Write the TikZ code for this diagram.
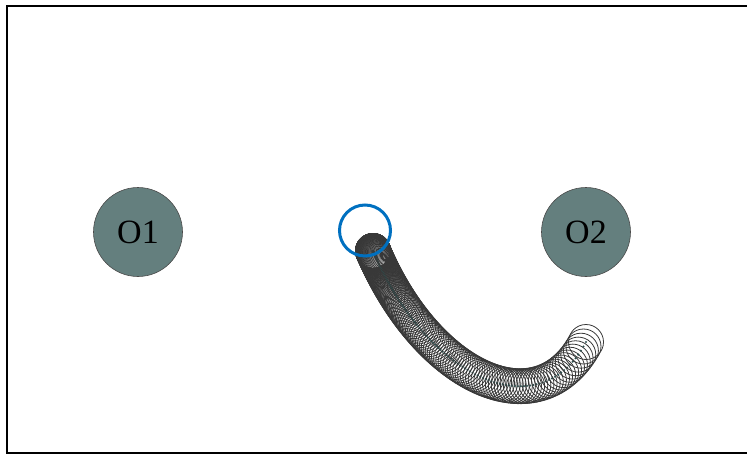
\documentclass[tikz,border=0pt]{standalone}
\usepackage{fontspec}
\setmainfont{Liberation Serif}
\definecolor{bodyfill}{HTML}{647F7E}
\definecolor{bodyedge}{HTML}{4A4A4A}
\definecolor{probeblue}{HTML}{0070C0}
\definecolor{ringgray}{HTML}{383838}
\definecolor{pathdot}{HTML}{2F4F4F}
\tikzset{
  attractor/.style={circle, fill=bodyfill, draw=bodyedge, line width=0.6pt,
    minimum size=89pt, inner sep=0pt, font=\fontsize{34}{34}\selectfont},
  probe/.style={circle, draw=probeblue, line width=3pt, minimum size=51pt, inner sep=0pt},
  trailring/.style={draw=ringgray, line width=0.8pt},
  traildot/.style={fill=pathdot},
  frameline/.style={line width=2pt, draw=black}
}
\begin{document}
\begin{tikzpicture}[x=1pt,y=-1pt]
\useasboundingbox (0,0) rectangle (747,455);
% frame
\draw[frameline] (760,6) -- (7,6) -- (7,453) -- (760,453);
% attractors
\node[attractor] (o1) at (138,232) {O1};
\node[attractor] (o2) at (586,232) {O2};
% trail of the moving body along a cubic Bezier, slow at the start
\foreach \i in {0,...,170}{
  \pgfmathsetmacro\s{\i/170}
  \pgfmathsetmacro\t{\s^3}
  \pgfmathsetmacro\u{1-\t}
  \pgfmathsetmacro\px{\u^3*373+3*\u^2*\t*428+3*\u*\t^2*540+\t^3*586}
  \pgfmathsetmacro\py{\u^3*251+3*\u^2*\t*380+3*\u*\t^2*430+\t^3*342}
  \draw[trailring] (\px,\py) circle[radius=17.5pt];
  \fill[traildot] (\px,\py) circle[radius=1.2pt];
}
% probe ring
\node[probe] (probe) at (365,230.5) {};
\end{tikzpicture}
\end{document}
